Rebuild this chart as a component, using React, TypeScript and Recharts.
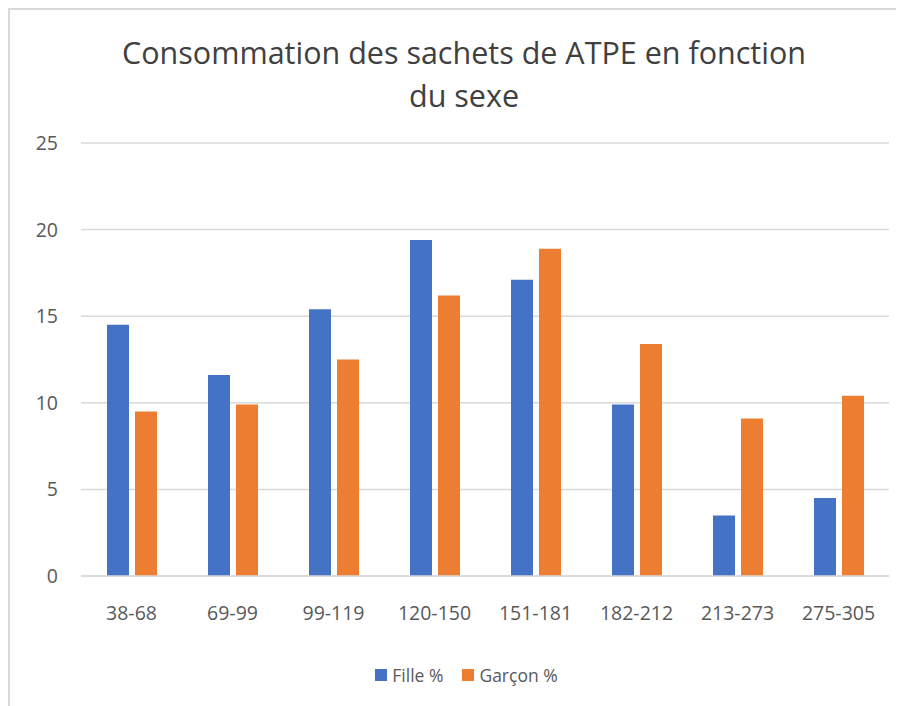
import React from "react";
import { BarChart, Bar, XAxis, YAxis, CartesianGrid, Legend } from "recharts";

const categories = ["38-68", "69-99", "99-119", "120-150", "151-181", "182-212", "213-273", "275-305"];
const filleValues = [14.5, 11.6, 15.4, 19.4, 17.1, 9.9, 3.5, 4.5];
const garconValues = [9.5, 9.9, 12.5, 16.2, 18.9, 13.4, 9.1, 10.4];
const yTicks = [0, 5, 10, 15, 20, 25];
const titleLines = ["Consommation des sachets de ATPE en fonction", "du sexe"];
const seriesNames = ["Fille %", "Garçon %"];

const data = categories.map((c, i) => ({ cat: c, fille: filleValues[i], garcon: garconValues[i] }));

const FONT = "'Open Sans', 'Noto Sans', sans-serif";
const TEXT = "#595959";

const LegendContent = (props: any) => {
  const { payload } = props;
  return (
    <div style={{ display: "flex", justifyContent: "center", gap: 19, fontFamily: FONT, fontSize: 17.5, color: TEXT, paddingLeft: 36 }}>
      {(payload || []).map((p: any) => (
        <div key={p.value} style={{ display: "flex", alignItems: "center" }}>
          <span style={{ display: "inline-block", width: 12, height: 12, background: p.color, marginRight: 5 }} />
          <span>{p.value}</span>
        </div>
      ))}
    </div>
  );
};

export default function App() {
  return (
    <div
      style={{
        position: "relative",
        width: 896,
        height: 698,
        borderTop: "2px solid #d9d9d9",
        borderLeft: "2px solid #d9d9d9",
        boxSizing: "border-box",
        overflow: "hidden",
        background: "#fff",
      }}
    >
      <div
        style={{
          position: "absolute",
          left: 0,
          top: 21,
          width: 908,
          textAlign: "center",
          fontFamily: FONT,
          fontSize: 30.5,
          lineHeight: "43px",
          color: "#404040",
        }}
      >
        {titleLines.map((t) => (
          <div key={t}>{t}</div>
        ))}
      </div>
      <div style={{ position: "absolute", left: -2, top: -2 }}>
        <BarChart
          width={896}
          height={698}
          data={data}
          margin={{ top: 135, right: 15, bottom: 0, left: 0 }}
          barGap={6}
          barSize={22}
        >
          <CartesianGrid vertical={false} stroke="#d9d9d9" strokeWidth={1.5} />
          <XAxis
            dataKey="cat"
            axisLine={{ stroke: "#d9d9d9", strokeWidth: 1.5 }}
            tickLine={false}
            tickMargin={24}
            height={60}
            interval={0}
            tick={{ fill: TEXT, fontSize: 19.5, fontFamily: FONT }}
          />
          <YAxis
            domain={[0, 25]}
            ticks={yTicks}
            axisLine={false}
            tickLine={false}
            tickMargin={17}
            width={73}
            tick={{ fill: TEXT, fontSize: 19.5, fontFamily: FONT }}
          />
          <Legend
            verticalAlign="bottom"
            height={70}
            content={<LegendContent />}
            wrapperStyle={{ top: 655 }}
          />
          <Bar dataKey="fille" name={seriesNames[0]} fill="#4472C4" isAnimationActive={false} />
          <Bar dataKey="garcon" name={seriesNames[1]} fill="#ED7D31" isAnimationActive={false} />
        </BarChart>
      </div>
    </div>
  );
}
